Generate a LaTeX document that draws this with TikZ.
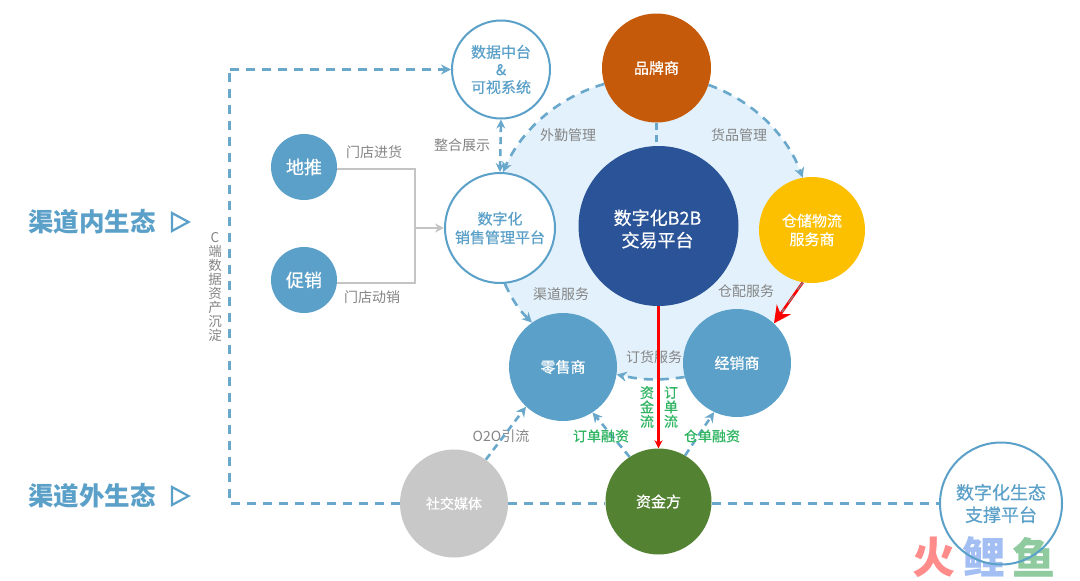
\documentclass[tikz,border=0pt]{standalone}
\usepackage{fontspec}
\setmainfont{Noto Sans CJK SC}
\newfontfamily\cjkmed[FakeBold=0.5]{Noto Sans CJK SC}
\usetikzlibrary{arrows.meta,backgrounds}
\definecolor{chblue}{HTML}{5BA0C8}
\definecolor{chdash}{HTML}{6AA8CB}
\definecolor{chlight}{HTML}{E2F1FB}
\definecolor{chnavy}{HTML}{2A5497}
\definecolor{chorange}{HTML}{C55A0A}
\definecolor{chyellow}{HTML}{FDC000}
\definecolor{chgreen}{HTML}{548233}
\definecolor{chgrey}{HTML}{C9C8C8}
\definecolor{chlabel}{HTML}{858585}
\definecolor{chmoney}{HTML}{2FB562}
\definecolor{chline}{HTML}{C4C4C4}
\definecolor{wmred}{HTML}{FF8B8B}
\definecolor{wmblue}{HTML}{A3BEF2}
\definecolor{wmgreen}{HTML}{8FCB9F}
\tikzset{
  fsz/.style={font=\fontsize{#1}{1.24\dimexpr#1pt\relax}\selectfont},
  fszb/.style={font=\cjkmed\fontsize{#1}{1.24\dimexpr#1pt\relax}\selectfont},
  solidball/.style={circle,draw=none,fill=#1,text=white,inner sep=0pt,align=center},
  ringball/.style={circle,draw=chblue,line width=2pt,fill=white,text=chblue,inner sep=0pt,align=center},
  graylabel/.style={text=chlabel,inner sep=0pt,fsz=14},
  greenlabel/.style={text=chmoney,inner sep=0pt,fszb=14,align=center},
  dashline/.style={draw=chdash,line width=2.6pt,dash pattern=on 9pt off 7pt},
  dasharrow/.style={dashline,-{Stealth[length=10pt,width=10pt]}},
  shortdash/.style={dash pattern=on 7pt off 5pt},
  grayline/.style={draw=chline,line width=2pt},
  redline/.style={draw=red,line width=2.6pt},
  bandtitle/.style={text=chblue,inner sep=0pt,font=\fontsize{25.5}{30}\selectfont\bfseries},
  bandtri/.style={draw=chblue,line width=2.2pt,fill=white,line join=miter},
  wmark/.style={inner sep=0pt,text=#1,font=\fontsize{43}{48}\selectfont\bfseries},
}
\begin{document}
\begin{tikzpicture}[x=1pt,y=-1pt]
\useasboundingbox (0,0) rectangle (1080,581);

% watermark
\node[wmark=wmred] (wm1) at (934,557) {火};
\node[wmark=wmblue] (wm2) at (984,557) {鲤};
\node[wmark=wmgreen] (wm3) at (1034,557) {鱼};

% nodes
\node[solidball=chorange,minimum size=109pt,fszb=15] (brand) at (656.5,68) {品牌商};
\node[ringball,minimum size=98pt,fszb=15] (data) at (501,69.5) {数据中台\\[-1pt]\&\\[-1pt]可视系统};
\node[solidball=chblue,minimum size=66pt,fszb=18] (tui) at (304,167) {地推};
\node[solidball=chblue,minimum size=66pt,fszb=18] (promo) at (304,280) {促销};
\node[ringball,minimum size=110pt,fszb=15] (sales) at (500,228) {数字化\\销售管理平台};
\node[solidball=chnavy,minimum size=160pt] (b2b) at (658.5,226) {};
\node[inner sep=0pt,align=center,text=white,fszb=18] (b2bt) at (657.5,229) {数字化B2B\\交易平台};
\node[solidball=chyellow,minimum size=106pt,fszb=15] (store) at (812,230) {仓储物流\\服务商};
\node[solidball=chblue,minimum size=108pt,fszb=15] (dist) at (737,363) {经销商};
\node[solidball=chblue,minimum size=108pt,fszb=15] (retail) at (563,367) {零售商};
\node[solidball=chgreen,minimum size=106pt,fszb=15] (fund) at (658.5,501.5) {资金方};
\node[solidball=chgrey,minimum size=108pt,fszb=14] (social) at (454,503.5) {社交媒体};
\node[circle,draw=chblue,line width=2pt,text=chblue,inner sep=0pt,align=center,minimum size=122pt,fszb=18] (eco) at (1001,503.5) {数字化生态\\支撑平台};

% hub background follows the dashed arcs
\begin{scope}[on background layer]
\fill[white] (0,0) rectangle (1080,581);
\fill[chlight] (brand.197) to[bend right=25,looseness=0.9] (sales.87) -- (sales.center) -- (sales.-85)
  to[bend right=10] (retail.125) -- (retail.center) -- (retail.-8)
  to[bend right=10] (dist.195) -- (dist.center) -- (dist.47) -- (store.-100) -- (store.center) -- (store.100)
  to[bend right=25,looseness=0.9] (brand.-18) -- (brand.center) -- cycle;
\end{scope}

% labels
\node[graylabel] (l1) at (568,135) {外勤管理};
\node[graylabel] (l2) at (739,135) {货品管理};
\node[graylabel] (l3) at (462,145) {整合展示};
\node[graylabel] (l4) at (374,152) {门店进货};
\node[graylabel] (l5) at (372,297) {门店动销};
\node[graylabel] (l6) at (561,294) {渠道服务};
\node[graylabel] (l7) at (746,291) {仓配服务};
\node[graylabel] (l8) at (654,357) {订货服务};
\node[graylabel] (l9) at (501,436) {O2O引流};
\node[graylabel,align=center,font=\fontsize{13.5}{14}\selectfont] (l10) at (215,287) {C\\端\\数\\据\\资\\产\\沉\\淀};
\node[bandtitle] (t1) at (92,222) {渠道内生态};
\node[bandtitle] (t2) at (92,496) {渠道外生态};

% outlined triangles
\draw[bandtri] (172,213) -- (188.5,222) -- (172,231) -- cycle;
\draw[bandtri] (172,487) -- (188.5,496) -- (172,505) -- cycle;

% gray connectors
\coordinate (j2) at (414.5,228);
\draw[grayline] (tui.-4) -| (j2) |- (promo.-5);
\draw[grayline,-{Stealth[length=9pt,width=9pt]}] (j2) -- (sales.west);

% dashed connectors
\coordinate (c1) at (229.5,503.5);
\coordinate (c2) at (229.5,69.5);
\draw[dashline] (social.west) -- (c1) -- (c2);
\draw[dasharrow] (c2) -- (data.west);
\draw[dashline] (social.east) -- (fund.west |- social.east);
\draw[dashline] (fund.east |- eco.west) -- (eco.west);
\draw[dashline,shortdash] (brand.south) -- (brand.south |- b2b.north);
\draw[dashline,shortdash,{Stealth[length=9pt,width=9pt]}-{Stealth[length=9pt,width=9pt]}] (data.south) -- (sales.north);
\draw[dasharrow] (brand.197) to[bend right=25,looseness=0.9] (sales.87);
\draw[dasharrow] (brand.-18) to[bend left=25,looseness=0.9] (store.100);
\draw[dasharrow] (sales.-85) to[bend right=10] (retail.125);
\draw[dasharrow] (dist.195) to[bend left=10] (retail.-8);
\draw[redline,-{Stealth[length=17pt,width=17pt]}] (store.-100) -- (dist.47);
\draw[dashline,line width=1.2pt,draw=chlabel,shorten >=14pt] (store.-100) -- (dist.47);
\draw[dashline] (b2b.south) -- (fund.north);
\draw[redline,-{Stealth[length=8pt,width=8pt]}] (b2b.south) -- (fund.north);
\draw[dasharrow,shortdash] (fund.123) -- (retail.-57);
\draw[dasharrow,shortdash] (fund.60) -- (dist.-115);
\draw[dasharrow,shortdash] (social.54) -- (retail.-133);

% green labels on top
\node[greenlabel,font=\cjkmed\fontsize{14}{14.4}\selectfont] (g1) at (647,407) {资\\金\\流};
\node[greenlabel,font=\cjkmed\fontsize{14}{14.4}\selectfont] (g2) at (671,407) {订\\单\\流};
\node[greenlabel] (g3) at (601,436) {订单融资};
\node[greenlabel] (g4) at (712,436) {仓单融资};
\end{tikzpicture}
\end{document}
